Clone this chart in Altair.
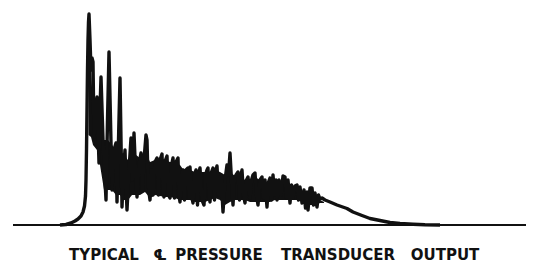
import altair as alt
import pandas as pd

# time (arbitrary units) and pressure (arbitrary units)
time = [60, 66, 71, 75, 78, 81, 83, 84.5, 85.5, 86, 86.5, 87, 87.5, 88, 88.5, 89,
        90, 91, 92, 93, 94, 95.5, 97, 98, 99, 100, 101, 103, 106, 107.5, 109, 110.5,
        112, 114, 116, 117, 118.5, 120, 121, 122, 123.5, 125, 126, 127, 129, 131,
        132.5, 134, 135.5, 137, 139, 141, 142.5, 144, 146, 147, 148, 149, 150, 151.5,
        153, 155, 157, 158.5, 160, 162, 163, 164, 165.5, 167, 168.5, 170, 171.5, 173,
        174.5, 176, 178, 179, 180, 181.5, 183, 184.5, 186, 188, 189, 190, 191.5, 193,
        194.5, 196, 197.5, 199, 200, 202, 204, 205.5, 207, 208, 209, 210, 211.5, 213,
        214.5, 216, 217, 218.5, 220, 221, 223, 225, 227, 228.5, 230, 231.5, 233, 234.5,
        236, 238, 239.5, 241, 242, 243.5, 245, 246.5, 248, 250, 251.5, 253, 255, 256.5,
        258, 260, 262, 263.5, 265, 267, 268.5, 270, 271.5, 273, 274.5, 276, 277, 279,
        281, 283, 285, 286.5, 288, 290, 291.5, 293, 295, 297, 298.5, 300, 302, 304,
        305.5, 307, 308, 310, 312, 313.5, 315, 317, 318.5, 320, 322, 325, 330, 337,
        347, 353, 362, 370, 380, 390, 400, 413, 425, 440]
pressure = [0, 0.5, 2, 4, 6, 9, 13, 19, 29, 45, 75, 115, 155, 185, 203, 211,
            185, 155, 167, 163, 88, 105, 128, 95, 62, 115, 148, 85, 25, 105, 173, 105,
            35, 75, 82, 23, 85, 147, 85, 18, 55, 75, 40, 15, 55, 87,
            45, 92, 55, 28, 60, 72, 35, 65, 90, 85, 45, 33, 25, 55,
            30, 63, 67, 30, 65, 71, 35, 28, 65, 69, 30, 27, 60, 67,
            27, 63, 67, 30, 23, 50, 55, 25, 55, 57, 27, 58, 30, 22,
            50, 55, 20, 53, 57, 25, 20, 50, 55, 57, 30, 23, 53, 57,
            25, 55, 59, 30, 30, 50, 13, 45, 60, 50, 72, 45, 20, 47,
            50, 53, 25, 50, 55, 30, 22, 45, 48, 27, 45, 50, 52, 30,
            20, 45, 48, 27, 45, 18, 43, 47, 25, 50, 30, 45, 25, 45,
            30, 49, 48, 27, 45, 22, 40, 27, 39, 40, 25, 38, 22, 35,
            17, 33, 15, 37, 37, 20, 32, 18, 30, 26, 27, 25, 23, 20,
            16.5, 13, 9.5, 6.5, 4.5, 2.5, 1.5, 0.7, 0.2, 0]

# envelope of the densely oscillating (visually solid) part of the trace
band_time = [88.5, 91, 93, 97, 100, 104, 108, 112, 116, 120, 124, 128, 132, 136,
             140, 145, 150, 155, 160, 165, 170, 175, 180, 185, 190, 195, 200, 205,
             210, 215, 220, 225, 230, 235, 240, 245, 250, 255, 260, 265, 270, 275,
             280, 285, 290, 295, 300, 305, 310, 315, 320, 324]
band_upper = [200, 165, 110, 105, 100, 85, 85, 80, 75, 75, 70, 65, 75, 70,
              67, 75, 63, 65, 67, 65, 63, 63, 60, 53, 55, 53, 53, 53,
              53, 55, 53, 50, 53, 49, 49, 45, 45, 48, 45, 43, 43, 45,
              43, 43, 39, 37, 35, 33, 33, 29, 25, 23]
band_lower = [90, 88, 80, 75, 60, 35, 35, 35, 30, 30, 25, 25, 30, 30,
              30, 33, 27, 30, 29, 28, 28, 27, 25, 25, 25, 23, 23, 23,
              25, 27, 25, 20, 23, 25, 25, 25, 23, 23, 23, 23, 23, 25,
              25, 25, 25, 25, 25, 20, 20, 20, 22, 22]

baseline_time = [13, 528]
baseline_pressure = [0, 0]

caption_words = ["TYPICAL", "\u2104", "PRESSURE", "TRANSDUCER", "OUTPUT"]
caption_x = [104, 160, 219, 338, 445]

trace = pd.DataFrame({"t": time, "p": pressure, "i": list(range(len(time)))})
band = pd.DataFrame({"t": band_time, "lo": band_lower, "hi": band_upper})
base = pd.DataFrame({"t": baseline_time, "p": baseline_pressure, "i": [0, 1]})

xs = alt.Scale(domain=[8, 526], nice=False, zero=False)
ys = alt.Scale(domain=[-38, 217], nice=False, zero=False)
INK = "#111111"

base_line = alt.Chart(base).mark_line(color=INK, strokeWidth=2.2).encode(
    x=alt.X("t:Q", scale=xs, axis=None),
    y=alt.Y("p:Q", scale=ys, axis=None),
    order="i:Q",
)

band_area = alt.Chart(band).mark_area(color=INK, opacity=1,
                                      interpolate="linear").encode(
    x=alt.X("t:Q", scale=xs, axis=None),
    y=alt.Y("lo:Q", scale=ys, axis=None),
    y2="hi:Q",
)

trace_line = alt.Chart(trace).mark_line(color=INK, strokeWidth=3.4,
                                        strokeJoin="round").encode(
    x=alt.X("t:Q", scale=xs, axis=None),
    y=alt.Y("p:Q", scale=ys, axis=None),
    order="i:Q",
)

layers = [base_line, band_area, trace_line]
for w, cx in zip(caption_words, caption_x):
    layers.append(
        alt.Chart(pd.DataFrame({"c": [w]})).mark_text(
            font="DejaVu Sans", fontSize=15, fontWeight="bold", color=INK,
            align="center", baseline="middle",
        ).encode(x=alt.value(cx - 8), y=alt.value(247), text="c:N")
    )

chart = alt.layer(*layers).properties(
    width=518, height=255,
    autosize=alt.AutoSizeParams(type="none"),
    padding=0,
    background="white",
).configure_view(stroke=None)

chart.save("out.html", embed_options={"renderer": "svg", "actions": False})
